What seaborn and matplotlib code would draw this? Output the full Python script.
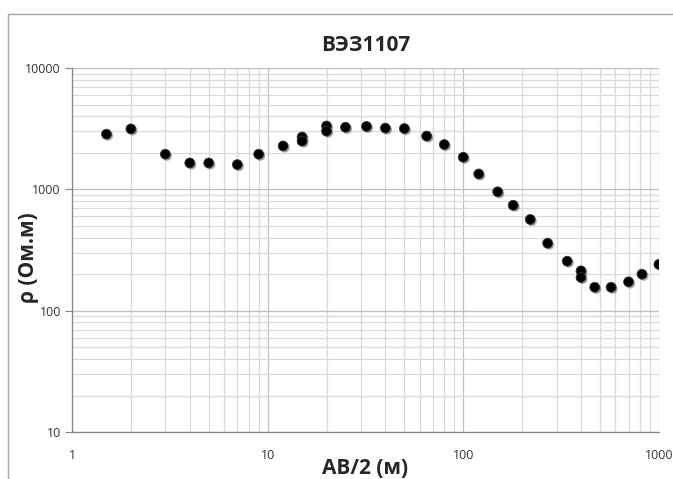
import matplotlib
matplotlib.use("Agg")
import matplotlib.pyplot as plt
import matplotlib.patheffects as pe
from matplotlib.lines import Line2D
from matplotlib.ticker import LogLocator, FixedLocator, NullFormatter
import seaborn as sns
import pandas as pd

# VES 1107 sounding curve
ab2 = [1.5, 2, 3, 4, 5, 7, 9, 12, 15, 15, 20, 20, 25, 32, 40, 50, 65, 80,
       100, 120, 150, 180, 220, 270, 340, 400, 400, 470, 570, 700, 820, 1000]
rho = [2850, 3150, 1950, 1650, 1650, 1600, 1950, 2280, 2700, 2500, 3330, 3020, 3250, 3300, 3200, 3170, 2750, 2340,
       1840, 1340, 955, 740, 565, 360, 256, 213, 188, 156, 156, 173, 200, 241]
x_ticks = [1, 10, 100, 1000]
y_ticks = [10, 100, 1000, 10000]

df = pd.DataFrame({"ab2": ab2, "rho": rho})

sns.set_style("white")
plt.rcParams["font.family"] = ["Open Sans", "DejaVu Sans"]

fig = plt.figure(figsize=(6.73, 4.79), dpi=100)
ax = fig.add_axes([0.107, 0.098, 0.872, 0.760])

# chart area frame (Excel style): left and top edges only are visible
fx, fy = 8 / 673, 1 - 14 / 479
fig.add_artist(Line2D([fx, fx], [0, fy], transform=fig.transFigure,
                      color="#a6a6a6", linewidth=1.0))
fig.add_artist(Line2D([fx, 1], [fy, fy], transform=fig.transFigure,
                      color="#a6a6a6", linewidth=1.0))

ax.set_xscale("log")
ax.set_yscale("log")
ax.set_xlim(1, 1000)
ax.set_ylim(10, 10000)

sns.scatterplot(data=df, x="ab2", y="rho", ax=ax, color="black", s=50,
                edgecolor="#333333", linewidth=0.6, zorder=3,
                path_effects=[pe.SimplePatchShadow(offset=(1.2, -1.2), alpha=0.35),
                              pe.Normal()])

ax.xaxis.set_major_locator(FixedLocator(x_ticks))
ax.yaxis.set_major_locator(FixedLocator(y_ticks))
ax.xaxis.set_minor_locator(LogLocator(base=10, subs=range(2, 10)))
ax.yaxis.set_minor_locator(LogLocator(base=10, subs=range(2, 10)))
ax.xaxis.set_minor_formatter(NullFormatter())
ax.yaxis.set_minor_formatter(NullFormatter())
ax.set_xticklabels([str(t) for t in x_ticks])
ax.set_yticklabels([str(t) for t in y_ticks])

ax.grid(True, which="major", color="#bfbfbf", linewidth=0.9)
ax.grid(True, which="minor", color="#d9d9d9", linewidth=0.9)
ax.set_axisbelow(True)

for side in ["top", "right"]:
    ax.spines[side].set_visible(False)
for side in ["left", "bottom"]:
    ax.spines[side].set_color("#868686")
    ax.spines[side].set_linewidth(0.9)

ax.tick_params(axis="y", which="major", direction="out", length=5, width=0.8,
               color="#868686", labelsize=9, labelcolor="#333333", pad=3, left=True)
ax.tick_params(axis="x", which="major", direction="out", length=0,
               labelsize=9, labelcolor="#333333", pad=12, bottom=True)
ax.tick_params(which="minor", length=0)

ax.set_title("ВЭЗ1107", fontsize=15, fontweight="bold", pad=12)
ax.set_xlabel("AB/2 (м)", fontsize=15, fontweight="bold", labelpad=-3)
ax.set_ylabel("ρ (Ом.м)", fontsize=15, fontweight="bold")
ax.yaxis.set_label_coords(-0.056, 0.48)

fig.savefig("out.png", dpi=100)
